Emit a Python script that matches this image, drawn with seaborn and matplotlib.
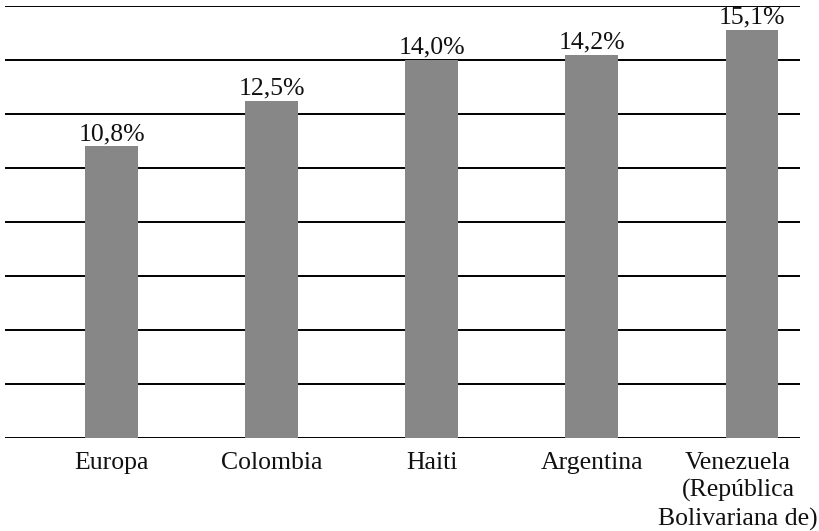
import matplotlib
matplotlib.use("Agg")
import matplotlib.pyplot as plt
import matplotlib.transforms as mtransforms
import seaborn as sns
import pandas as pd

categories = ["Europa", "Colombia", "Haiti", "Argentina",
              "Venezuela\n(República\nBolivariana de)"]
values = [10.8, 12.5, 14.0, 14.2, 15.1]
y_ticks = [0, 2, 4, 6, 8, 10, 12, 14, 16]

sns.set_theme(style="white")
plt.rcParams["font.family"] = ["Liberation Serif", "DejaVu Serif"]

df = pd.DataFrame({"pais": categories, "valor": values})

fig = plt.figure(figsize=(8.19, 5.31), dpi=100)
ax = fig.add_axes([5 / 819, 93 / 531, 795 / 819, 432 / 531])

sns.barplot(data=df, x="pais", y="valor", color="#878787", saturation=1,
            width=0.33, linewidth=0, ax=ax, zorder=3)

ax.set_ylim(0, 16)
ax.set_xlim(-0.666, 4.30)
ax.set_yticks(y_ticks)
ax.set_yticklabels([])
ax.yaxis.grid(True, color="black", linewidth=1.4, zorder=1)
ax.xaxis.grid(False)
for s in ax.spines.values():
    s.set_visible(False)
ax.tick_params(axis="both", length=0)
ax.tick_params(axis="x", labelsize=18.5, pad=10)
for lbl in ax.get_xticklabels():
    lbl.set_linespacing(1.3)
    lbl.set_color("#111111")

# keep the three-line label inside the right edge of the figure
last = ax.get_xticklabels()[-1]
last.set_horizontalalignment("right")
last.set_multialignment("center")
last.set_transform(last.get_transform() +
                   mtransforms.ScaledTranslation(0.66, 0, fig.dpi_scale_trans))

ax.set_xlabel("")
ax.set_ylabel("")

labels = [f"{v:.1f}%".replace(".", ",") for v in values]
ax.bar_label(ax.containers[0], labels=labels, padding=1, fontsize=18.5,
             color="#111111")

fig.savefig("out.png", dpi=100)
